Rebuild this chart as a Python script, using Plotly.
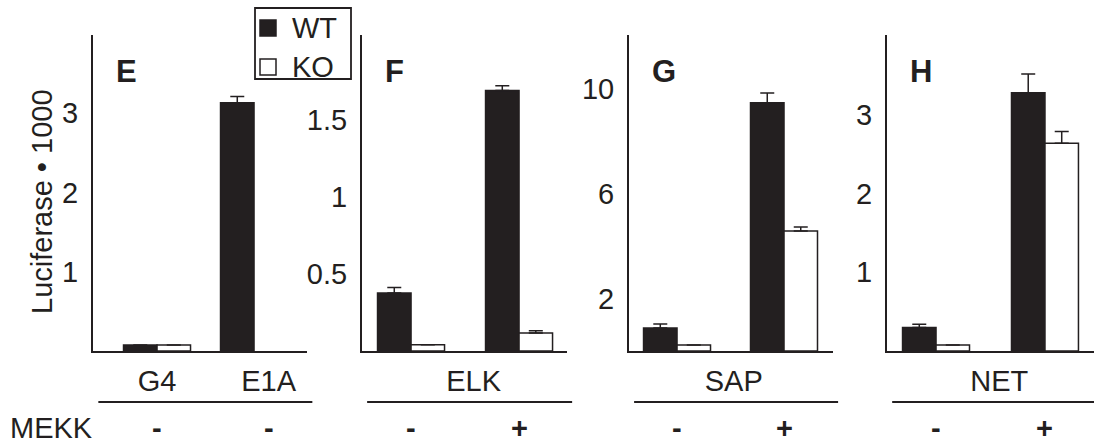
import plotly.graph_objects as go

# ---------------- data ----------------
panel_letters = ["E", "F", "G", "H"]
labels_E = ["G4", "E1A"]
reporters_FGH = ["ELK", "SAP", "NET"]
mekk_E = ["-", "-"]
mekk_FGH = ["-", "+"]
series_names = ["WT", "KO"]

wt_E = [0.076, 3.13]
wt_E_err = [0.0, 0.08]
ko_E = [0.076, None]
ko_E_err = [0.0, 0.0]

wt_F = [0.377, 1.69]
wt_F_err = [0.035, 0.03]
ko_F = [0.04, 0.117]
ko_F_err = [0.0, 0.015]

wt_G = [0.88, 9.47]
wt_G_err = [0.15, 0.38]
ko_G = [0.23, 4.58]
ko_G_err = [0.0, 0.15]

wt_H = [0.30, 3.28]
wt_H_err = [0.04, 0.24]
ko_H = [0.076, 2.64]
ko_H_err = [0.0, 0.15]

yticks_E = [1, 2, 3]
yticks_F = [0.5, 1, 1.5]
yticks_G = [2, 6, 10]
yticks_H = [1, 2, 3]

y_title = "Luciferase • 1000"
mekk_label = "MEKK"

# ---------------- styling / layout ----------------
DARK = "#231f20"
FONT = "Liberation Sans"
FS = 29
W, H = 1094, 446
series_fill = [DARK, "white"]

panels = [
    dict(letter=panel_letters[0], wt=wt_E, wte=wt_E_err, ko=ko_E, koe=ko_E_err,
         ticks=yticks_E, yr=[0, 3.985], dom=[93, 307], xr=[-0.66, 1.546], unit=97,
         tickvals=[0, 1.15], ticktext=labels_E, signs=mekk_E, signx=[0, 1.15]),
    dict(letter=panel_letters[1], wt=wt_F, wte=wt_F_err, ko=ko_F, koe=ko_F_err,
         ticks=yticks_F, yr=[0, 2.05], dom=[362, 567], xr=[-0.454, 1.444], unit=108,
         tickvals=[0.58], ticktext=[reporters_FGH[0]], signs=mekk_FGH, signx=[0, 1]),
    dict(letter=panel_letters[2], wt=wt_G, wte=wt_G_err, ko=ko_G, koe=ko_G_err,
         ticks=yticks_G, yr=[0, 12.06], dom=[629, 833], xr=[-0.449, 1.458], unit=107,
         tickvals=[0.53], ticktext=[reporters_FGH[1]], signs=mekk_FGH, signx=[0, 1]),
    dict(letter=panel_letters[3], wt=wt_H, wte=wt_H_err, ko=ko_H, koe=ko_H_err,
         ticks=yticks_H, yr=[0, 4.015], dom=[887, 1094], xr=[-0.45, 1.45], unit=109,
         tickvals=[0.58], ticktext=[reporters_FGH[2]], signs=mekk_FGH, signx=[0, 1]),
]

BAR_PX = 33.5
y_dom = [1 - 351 / H, 1 - 35 / H]


def px_x(v):
    return v / W


def px_y(v):
    return 1 - v / H


fig = go.Figure()
layout = dict(
    width=W, height=H,
    margin=dict(l=0, r=0, t=0, b=0),
    paper_bgcolor="white", plot_bgcolor="white",
    barmode="overlay",
    font=dict(family=FONT, size=FS, color=DARK),
    showlegend=False,
)
annotations = []
shapes = []

for i, p in enumerate(panels):
    sfx = "" if i == 0 else str(i + 1)
    xa, ya = "x" + sfx, "y" + sfx
    n = len(p["wt"])
    idx = list(range(n))
    w = BAR_PX / p["unit"]
    fig.add_trace(go.Bar(
        x=idx, y=p["wt"], xaxis=xa, yaxis=ya, width=w, offset=-w,
        marker=dict(color=series_fill[0], line=dict(color=DARK, width=1.5)),
        error_y=dict(type="data", array=p["wte"], arrayminus=[0] * n, symmetric=False,
                     color=DARK, thickness=1.5, width=7),
        name=series_names[0]))
    fig.add_trace(go.Bar(
        x=idx, y=p["ko"], xaxis=xa, yaxis=ya, width=w, offset=0,
        marker=dict(color=series_fill[1], line=dict(color=DARK, width=1.5)),
        error_y=dict(type="data", array=p["koe"], arrayminus=[0] * n, symmetric=False,
                     color=DARK, thickness=1.5, width=7),
        name=series_names[1]))

    layout["xaxis" + sfx] = dict(
        domain=[px_x(p["dom"][0]), px_x(p["dom"][1])], range=p["xr"], anchor=ya,
        showgrid=False, zeroline=False, showline=True, linecolor=DARK, linewidth=2,
        ticks="", tickvals=p["tickvals"], ticktext=p["ticktext"],
        tickfont=dict(family=FONT, size=FS, color=DARK), ticklabelstandoff=3,
        fixedrange=True)
    layout["yaxis" + sfx] = dict(
        domain=y_dom, range=p["yr"], anchor=xa,
        showgrid=False, zeroline=False, showline=True, linecolor=DARK, linewidth=2,
        ticks="", tickvals=p["ticks"],
        tickfont=dict(family=FONT, size=FS, color=DARK), ticklabelstandoff=7,
        fixedrange=True)

    annotations.append(dict(
        text="<b>%s</b>" % p["letter"], xref=xa + " domain", yref="paper",
        x=0, xshift=21, y=px_y(71), xanchor="left", yanchor="middle",
        showarrow=False, font=dict(family=FONT, size=31, color=DARK)))
    for sx, s in zip(p["signx"], p["signs"]):
        annotations.append(dict(
            text="<b>%s</b>" % s, xref=xa, yref="paper", x=sx, y=px_y(428),
            xanchor="center", yanchor="middle", showarrow=False,
            font=dict(family=FONT, size=FS, color=DARK)))
    shapes.append(dict(type="line", xref=xa + " domain", yref="paper",
                       x0=0.025, x1=1.025, y0=px_y(402), y1=px_y(402),
                       line=dict(color=DARK, width=1.8)))

annotations.append(dict(text=y_title, textangle=-90, xref="paper", yref="paper",
                        x=px_x(42), y=px_y(202), xanchor="center", yanchor="middle",
                        showarrow=False, font=dict(family=FONT, size=FS, color=DARK)))
annotations.append(dict(text=mekk_label, xref="paper", yref="paper",
                        x=px_x(8), y=px_y(428), xanchor="left", yanchor="middle",
                        showarrow=False, font=dict(family=FONT, size=FS, color=DARK)))

# legend box (drawn)
shapes.append(dict(type="rect", xref="paper", yref="paper",
                   x0=px_x(255), x1=px_x(351), y0=px_y(79), y1=px_y(8),
                   line=dict(color=DARK, width=1.8), fillcolor="white"))
for k, (name, fill) in enumerate(zip(series_names, series_fill)):
    cy = 28 + 39 * k
    shapes.append(dict(type="rect", xref="paper", yref="paper",
                       x0=px_x(260), x1=px_x(276), y0=px_y(cy + 8), y1=px_y(cy - 8),
                       line=dict(color=DARK, width=1.5), fillcolor=fill))
    annotations.append(dict(text=name, xref="paper", yref="paper",
                            x=px_x(290), y=px_y(cy), xanchor="left", yanchor="middle",
                            showarrow=False, font=dict(family=FONT, size=FS, color=DARK)))

layout["annotations"] = annotations
layout["shapes"] = shapes
fig.update_layout(**layout)
fig.write_html("out.html", config={"displayModeBar": False},
               post_script="document.body.style.margin='0';")
